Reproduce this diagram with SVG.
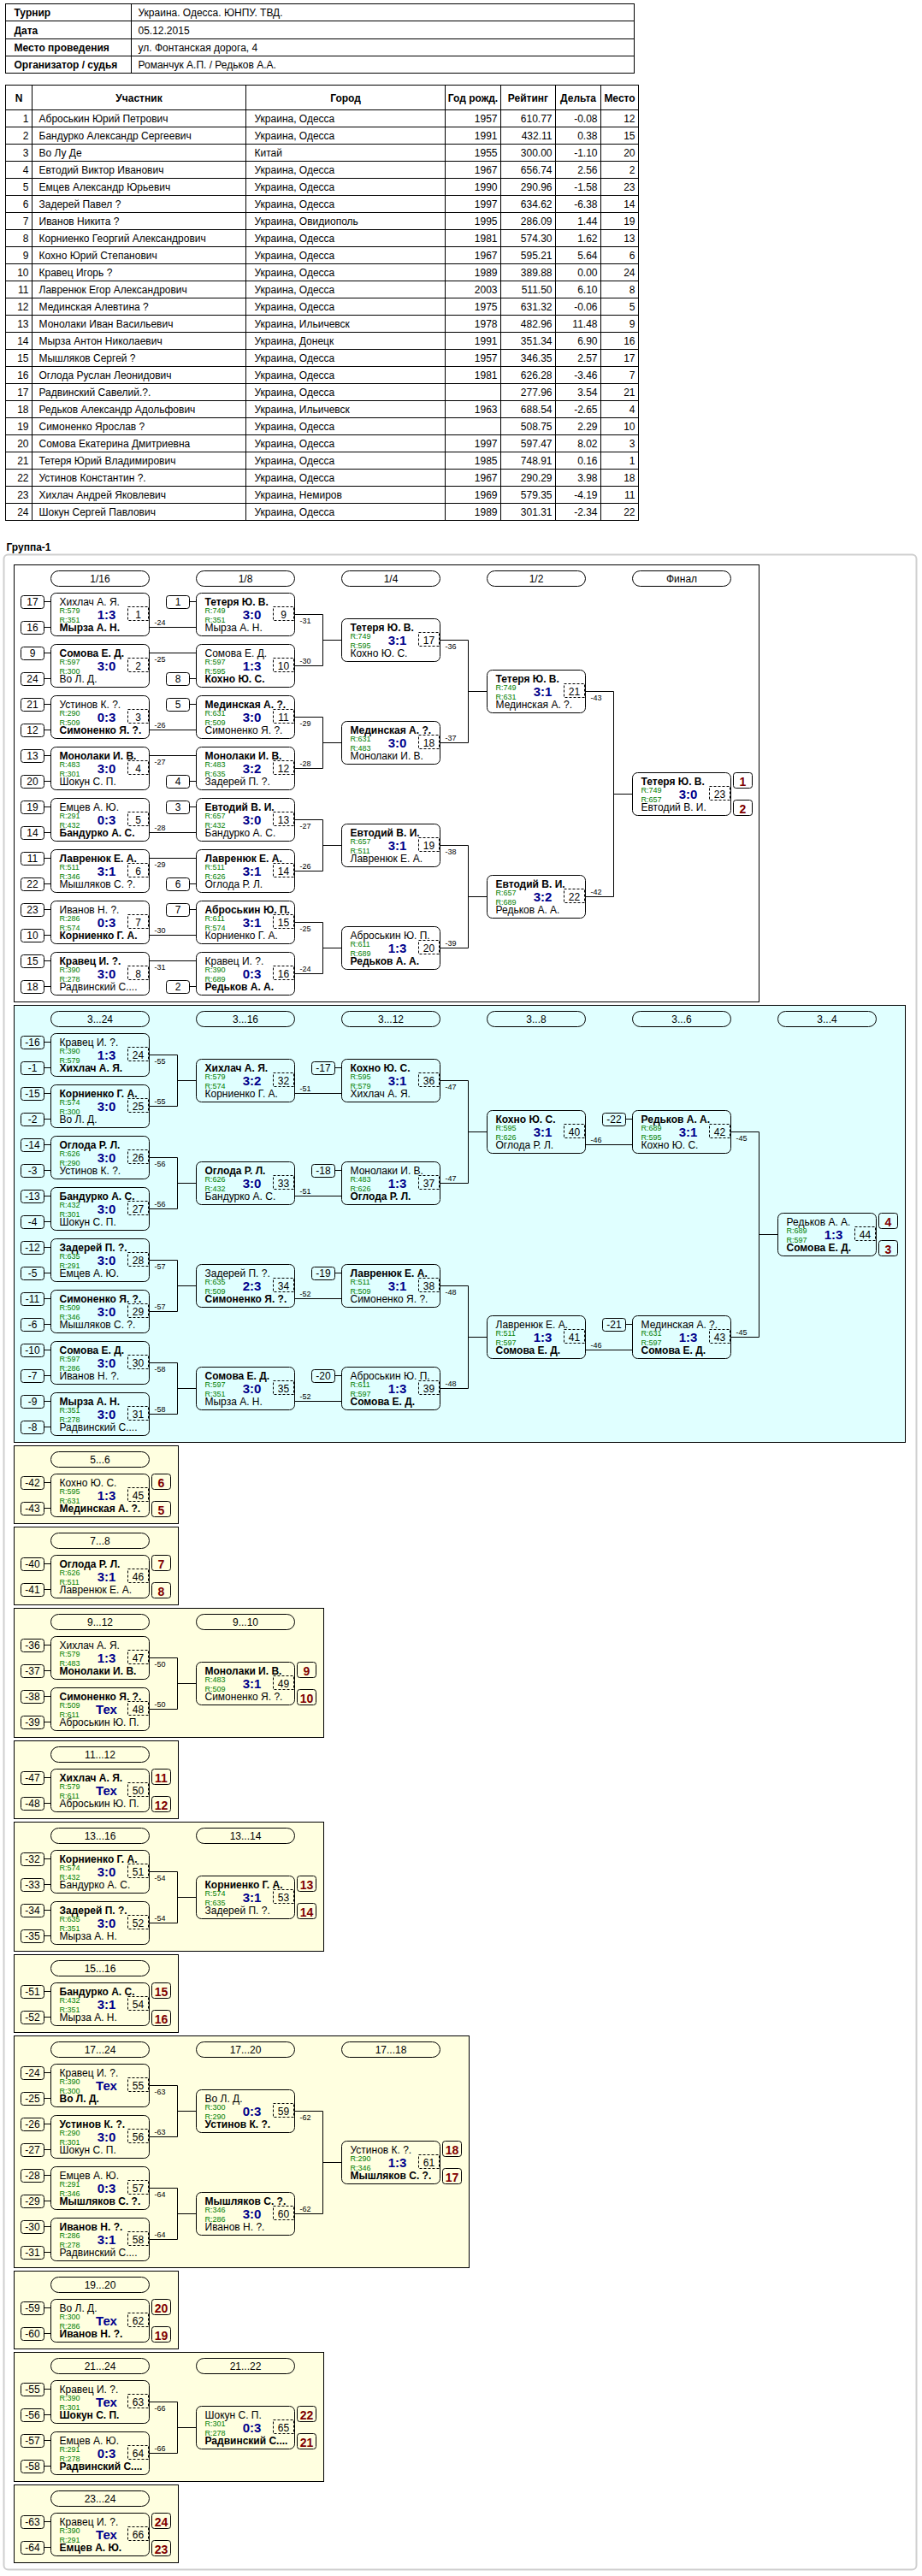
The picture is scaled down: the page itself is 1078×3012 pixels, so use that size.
<svg xmlns="http://www.w3.org/2000/svg" width="1078" height="3012" viewBox="0 0 1078 3012">
<style>
text{font-family:"Liberation Sans",Arial,sans-serif;font-size:12px;fill:#000}
.b{font-weight:bold}
.r{font-size:9px;fill:#008000}
.s{font-size:15px;font-weight:bold;fill:#00008B;text-anchor:middle}
.i{text-anchor:middle}
.e{text-anchor:end}
.l{font-size:9px}
.p{font-size:14px;font-weight:bold;fill:#800000;text-anchor:middle}
.bx{fill:none;stroke:#000;stroke-width:1}
.ds{fill:none;stroke:#000;stroke-width:1;stroke-dasharray:3,2}
.cn{fill:none;stroke:#000;stroke-width:1}
.sw{stroke:#000;stroke-width:1}
</style>
<defs>
<g id="mb"><rect class="bx" width="115" height="50" rx="6"/><rect class="ds" x="90" y="16" width="24" height="16"/></g>
<g id="sd"><rect class="bx" y="-7" width="27" height="15" rx="3"/><path class="cn" d="M27,0H35"/></g>
<g id="pl"><rect class="bx" x="118" width="22" height="18" rx="3"/><rect class="bx" x="118" y="32" width="22" height="18" rx="3"/></g>
<rect id="pb" class="bx" width="115" height="18" rx="9"/>
</defs>
<rect width="1078" height="3012" fill="#fff"/>
<g transform="translate(.5,.5)">

<g id="info">
<rect class="bx" x="6" y="4" width="735" height="81"/>
<path class="cn" d="M6,24H741M6,45H741M6,65H741M153,4V85"/>
<text class="b" x="16" y="18">Турнир</text>
<text class="b" x="16" y="39">Дата</text>
<text class="b" x="16" y="59">Место проведения</text>
<text class="b" x="16" y="79">Организатор / судья</text>
<text x="161" y="18">Украина. Одесса. ЮНПУ. ТВД.</text>
<text x="161" y="39">05.12.2015</text>
<text x="161" y="59">ул. Фонтанская дорога, 4</text>
<text x="161" y="79">Романчук А.П. / Редьков А.А.</text>
</g>

<g id="players">
<rect class="bx" x="6" y="99" width="740" height="509"/>
<path class="cn" d="M37,99V608M287,99V608M520,99V608M585,99V608M649,99V608M702,99V608M6,128H746M6,148H746M6,168H746M6,188H746M6,208H746M6,228H746M6,248H746M6,268H746M6,288H746M6,308H746M6,328H746M6,348H746M6,368H746M6,388H746M6,408H746M6,428H746M6,448H746M6,468H746M6,488H746M6,508H746M6,528H746M6,548H746M6,568H746M6,588H746"/>
<text class="b i" x="21.5" y="118">N</text>
<text class="b i" x="162" y="118">Участник</text>
<text class="b i" x="403.5" y="118">Город</text>
<text class="b i" x="552.5" y="118">Год рожд.</text>
<text class="b i" x="617" y="118">Рейтинг</text>
<text class="b i" x="675.5" y="118">Дельта</text>
<text class="b i" x="724" y="118">Место</text>
<text class="e"><tspan x="33" y="142">1</tspan><tspan x="33" y="162">2</tspan><tspan x="33" y="182">3</tspan><tspan x="33" y="202">4</tspan><tspan x="33" y="222">5</tspan><tspan x="33" y="242">6</tspan><tspan x="33" y="262">7</tspan><tspan x="33" y="282">8</tspan><tspan x="33" y="302">9</tspan><tspan x="33" y="322">10</tspan><tspan x="33" y="342">11</tspan><tspan x="33" y="362">12</tspan><tspan x="33" y="382">13</tspan><tspan x="33" y="402">14</tspan><tspan x="33" y="422">15</tspan><tspan x="33" y="442">16</tspan><tspan x="33" y="462">17</tspan><tspan x="33" y="482">18</tspan><tspan x="33" y="502">19</tspan><tspan x="33" y="522">20</tspan><tspan x="33" y="542">21</tspan><tspan x="33" y="562">22</tspan><tspan x="33" y="582">23</tspan><tspan x="33" y="602">24</tspan></text>
<text><tspan x="45" y="142">Аброськин Юрий Петрович</tspan><tspan x="45" y="162">Бандурко Александр Сергеевич</tspan><tspan x="45" y="182">Во Лу Де</tspan><tspan x="45" y="202">Евтодий Виктор Иванович</tspan><tspan x="45" y="222">Емцев Александр Юрьевич</tspan><tspan x="45" y="242">Задерей Павел ?</tspan><tspan x="45" y="262">Иванов Никита ?</tspan><tspan x="45" y="282">Корниенко Георгий Александрович</tspan><tspan x="45" y="302">Кохно Юрий Степанович</tspan><tspan x="45" y="322">Кравец Игорь ?</tspan><tspan x="45" y="342">Лавренюк Егор Александрович</tspan><tspan x="45" y="362">Мединская Алевтина ?</tspan><tspan x="45" y="382">Монолаки Иван Васильевич</tspan><tspan x="45" y="402">Мырза Антон Николаевич</tspan><tspan x="45" y="422">Мышляков Сергей ?</tspan><tspan x="45" y="442">Оглода Руслан Леонидович</tspan><tspan x="45" y="462">Радвинский Савелий.?.</tspan><tspan x="45" y="482">Редьков Александр Адольфович</tspan><tspan x="45" y="502">Симоненко Ярослав ?</tspan><tspan x="45" y="522">Сомова Екатерина Дмитриевна</tspan><tspan x="45" y="542">Тетеря Юрий Владимирович</tspan><tspan x="45" y="562">Устинов Константин ?.</tspan><tspan x="45" y="582">Хихлач Андрей Яковлевич</tspan><tspan x="45" y="602">Шокун Сергей Павлович</tspan></text>
<text><tspan x="297" y="142">Украина, Одесса</tspan><tspan x="297" y="162">Украина, Одесса</tspan><tspan x="297" y="182">Китай</tspan><tspan x="297" y="202">Украина, Одесса</tspan><tspan x="297" y="222">Украина, Одесса</tspan><tspan x="297" y="242">Украина, Одесса</tspan><tspan x="297" y="262">Украина, Овидиополь</tspan><tspan x="297" y="282">Украина, Одесса</tspan><tspan x="297" y="302">Украина, Одесса</tspan><tspan x="297" y="322">Украина, Одесса</tspan><tspan x="297" y="342">Украина, Одесса</tspan><tspan x="297" y="362">Украина, Одесса</tspan><tspan x="297" y="382">Украина, Ильичевск</tspan><tspan x="297" y="402">Украина, Донецк</tspan><tspan x="297" y="422">Украина, Одесса</tspan><tspan x="297" y="442">Украина, Одесса</tspan><tspan x="297" y="462">Украина, Одесса</tspan><tspan x="297" y="482">Украина, Ильичевск</tspan><tspan x="297" y="502">Украина, Одесса</tspan><tspan x="297" y="522">Украина, Одесса</tspan><tspan x="297" y="542">Украина, Одесса</tspan><tspan x="297" y="562">Украина, Одесса</tspan><tspan x="297" y="582">Украина, Немиров</tspan><tspan x="297" y="602">Украина, Одесса</tspan></text>
<text class="e"><tspan x="581" y="142">1957</tspan><tspan x="581" y="162">1991</tspan><tspan x="581" y="182">1955</tspan><tspan x="581" y="202">1967</tspan><tspan x="581" y="222">1990</tspan><tspan x="581" y="242">1997</tspan><tspan x="581" y="262">1995</tspan><tspan x="581" y="282">1981</tspan><tspan x="581" y="302">1967</tspan><tspan x="581" y="322">1989</tspan><tspan x="581" y="342">2003</tspan><tspan x="581" y="362">1975</tspan><tspan x="581" y="382">1978</tspan><tspan x="581" y="402">1991</tspan><tspan x="581" y="422">1957</tspan><tspan x="581" y="442">1981</tspan><tspan x="581" y="482">1963</tspan><tspan x="581" y="522">1997</tspan><tspan x="581" y="542">1985</tspan><tspan x="581" y="562">1967</tspan><tspan x="581" y="582">1969</tspan><tspan x="581" y="602">1989</tspan></text>
<text class="e"><tspan x="645" y="142">610.77</tspan><tspan x="645" y="162">432.11</tspan><tspan x="645" y="182">300.00</tspan><tspan x="645" y="202">656.74</tspan><tspan x="645" y="222">290.96</tspan><tspan x="645" y="242">634.62</tspan><tspan x="645" y="262">286.09</tspan><tspan x="645" y="282">574.30</tspan><tspan x="645" y="302">595.21</tspan><tspan x="645" y="322">389.88</tspan><tspan x="645" y="342">511.50</tspan><tspan x="645" y="362">631.32</tspan><tspan x="645" y="382">482.96</tspan><tspan x="645" y="402">351.34</tspan><tspan x="645" y="422">346.35</tspan><tspan x="645" y="442">626.28</tspan><tspan x="645" y="462">277.96</tspan><tspan x="645" y="482">688.54</tspan><tspan x="645" y="502">508.75</tspan><tspan x="645" y="522">597.47</tspan><tspan x="645" y="542">748.91</tspan><tspan x="645" y="562">290.29</tspan><tspan x="645" y="582">579.35</tspan><tspan x="645" y="602">301.31</tspan></text>
<text class="e"><tspan x="698" y="142">-0.08</tspan><tspan x="698" y="162">0.38</tspan><tspan x="698" y="182">-1.10</tspan><tspan x="698" y="202">2.56</tspan><tspan x="698" y="222">-1.58</tspan><tspan x="698" y="242">-6.38</tspan><tspan x="698" y="262">1.44</tspan><tspan x="698" y="282">1.62</tspan><tspan x="698" y="302">5.64</tspan><tspan x="698" y="322">0.00</tspan><tspan x="698" y="342">6.10</tspan><tspan x="698" y="362">-0.06</tspan><tspan x="698" y="382">11.48</tspan><tspan x="698" y="402">6.90</tspan><tspan x="698" y="422">2.57</tspan><tspan x="698" y="442">-3.46</tspan><tspan x="698" y="462">3.54</tspan><tspan x="698" y="482">-2.65</tspan><tspan x="698" y="502">2.29</tspan><tspan x="698" y="522">8.02</tspan><tspan x="698" y="542">0.16</tspan><tspan x="698" y="562">3.98</tspan><tspan x="698" y="582">-4.19</tspan><tspan x="698" y="602">-2.34</tspan></text>
<text class="e"><tspan x="742" y="142">12</tspan><tspan x="742" y="162">15</tspan><tspan x="742" y="182">20</tspan><tspan x="742" y="202">2</tspan><tspan x="742" y="222">23</tspan><tspan x="742" y="242">14</tspan><tspan x="742" y="262">19</tspan><tspan x="742" y="282">13</tspan><tspan x="742" y="302">6</tspan><tspan x="742" y="322">24</tspan><tspan x="742" y="342">8</tspan><tspan x="742" y="362">5</tspan><tspan x="742" y="382">9</tspan><tspan x="742" y="402">16</tspan><tspan x="742" y="422">17</tspan><tspan x="742" y="442">7</tspan><tspan x="742" y="462">21</tspan><tspan x="742" y="482">4</tspan><tspan x="742" y="502">10</tspan><tspan x="742" y="522">3</tspan><tspan x="742" y="542">1</tspan><tspan x="742" y="562">18</tspan><tspan x="742" y="582">11</tspan><tspan x="742" y="602">22</tspan></text>
</g>

<text class="b" x="7" y="643">Группа-1</text>
<rect x="4" y="648" width="1067" height="2356" rx="5" fill="#fff" stroke="#cfcfcf" stroke-width="2"/>

<g id="sections">
<rect class="sw" x="16" y="660" width="871" height="511" fill="#fff"/>
<rect class="sw" x="16" y="1175" width="1042" height="511" fill="#E0FFFF"/>
<rect class="sw" x="16" y="1690" width="192" height="91" fill="#FFFFE0"/>
<rect class="sw" x="16" y="1785" width="192" height="91" fill="#FFFFE0"/>
<rect class="sw" x="16" y="1880" width="362" height="151" fill="#FFFFE0"/>
<rect class="sw" x="16" y="2035" width="192" height="91" fill="#FFFFE0"/>
<rect class="sw" x="16" y="2130" width="362" height="151" fill="#FFFFE0"/>
<rect class="sw" x="16" y="2285" width="192" height="91" fill="#FFFFE0"/>
<rect class="sw" x="16" y="2380" width="532" height="271" fill="#FFFFE0"/>
<rect class="sw" x="16" y="2655" width="192" height="91" fill="#FFFFE0"/>
<rect class="sw" x="16" y="2750" width="362" height="151" fill="#FFFFE0"/>
<rect class="sw" x="16" y="2905" width="192" height="91" fill="#FFFFE0"/>
</g>

<g id="rounds">
<use href="#pb" x="59" y="667"/><text class="i" x="116.5" y="680">1/16</text>
<use href="#pb" x="229" y="667"/><text class="i" x="286.5" y="680">1/8</text>
<use href="#pb" x="399" y="667"/><text class="i" x="456.5" y="680">1/4</text>
<use href="#pb" x="569" y="667"/><text class="i" x="626.5" y="680">1/2</text>
<use href="#pb" x="739" y="667"/><text class="i" x="796.5" y="680">Финал</text>
<use href="#pb" x="59" y="1182"/><text class="i" x="116.5" y="1195">3...24</text>
<use href="#pb" x="229" y="1182"/><text class="i" x="286.5" y="1195">3...16</text>
<use href="#pb" x="399" y="1182"/><text class="i" x="456.5" y="1195">3...12</text>
<use href="#pb" x="569" y="1182"/><text class="i" x="626.5" y="1195">3...8</text>
<use href="#pb" x="739" y="1182"/><text class="i" x="796.5" y="1195">3...6</text>
<use href="#pb" x="909" y="1182"/><text class="i" x="966.5" y="1195">3...4</text>
<use href="#pb" x="59" y="1697"/><text class="i" x="116.5" y="1710">5...6</text>
<use href="#pb" x="59" y="1792"/><text class="i" x="116.5" y="1805">7...8</text>
<use href="#pb" x="59" y="1887"/><text class="i" x="116.5" y="1900">9...12</text>
<use href="#pb" x="229" y="1887"/><text class="i" x="286.5" y="1900">9...10</text>
<use href="#pb" x="59" y="2042"/><text class="i" x="116.5" y="2055">11...12</text>
<use href="#pb" x="59" y="2137"/><text class="i" x="116.5" y="2150">13...16</text>
<use href="#pb" x="229" y="2137"/><text class="i" x="286.5" y="2150">13...14</text>
<use href="#pb" x="59" y="2292"/><text class="i" x="116.5" y="2305">15...16</text>
<use href="#pb" x="59" y="2387"/><text class="i" x="116.5" y="2400">17...24</text>
<use href="#pb" x="229" y="2387"/><text class="i" x="286.5" y="2400">17...20</text>
<use href="#pb" x="399" y="2387"/><text class="i" x="456.5" y="2400">17...18</text>
<use href="#pb" x="59" y="2662"/><text class="i" x="116.5" y="2675">19...20</text>
<use href="#pb" x="59" y="2757"/><text class="i" x="116.5" y="2770">21...24</text>
<use href="#pb" x="229" y="2757"/><text class="i" x="286.5" y="2770">21...22</text>
<use href="#pb" x="59" y="2912"/><text class="i" x="116.5" y="2925">23...24</text>
</g>

<g id="connectors">
<path class="cn" d="M174,733H229M174,763H229M174,853H229M174,883H229M174,973H229M174,1003H229M174,1093H229M174,1123H229
M344,718H377V778H344M377,748H399M344,838H377V898H344M377,868H399M344,958H377V1018H344M377,988H399M344,1078H377V1138H344M377,1108H399
M514,748H547V868H514M547,808H569M514,988H547V1108H514M547,1048H569
M684,808H717V1048H684M717,928H739
M174,1233H207V1293H174M207,1263H229M174,1353H207V1413H174M207,1383H229M174,1473H207V1533H174M207,1503H229M174,1593H207V1653H174M207,1623H229
M344,1278H399M344,1398H399M344,1518H399M344,1638H399
M514,1263H547V1383H514M547,1323H569M514,1503H547V1623H514M547,1563H569
M684,1338H739M684,1578H739
M854,1323H887V1563H854M887,1443H909
M174,1938H207V1998H174M207,1968H229
M174,2188H207V2248H174M207,2218H229
M174,2438H207V2498H174M207,2468H229M174,2558H207V2618H174M207,2588H229M344,2468H377V2588H344M377,2528H399
M174,2808H207V2868H174M207,2838H229"/>
</g>

<g id="matches">
<g id="m1" transform="translate(59,693)"><use href="#mb"/><use href="#sd" x="-35" y="10"/><text class="i" x="-21.5" y="14">17</text><use href="#sd" x="-35" y="40"/><text class="i" x="-21.5" y="44">16</text><text x="10" y="14">Хихлач А. Я.</text><text class="r" x="10" y="23">R:579</text><text class="r" x="10" y="34">R:351</text><text class="s" x="65" y="30">1:3</text><text class="i" x="102" y="29">1</text><text class="b" x="10" y="44">Мырза А. Н.</text><text class="l" x="121" y="37.5">-24</text></g>
<g id="m2" transform="translate(59,753)"><use href="#mb"/><use href="#sd" x="-35" y="10"/><text class="i" x="-21.5" y="14">9</text><use href="#sd" x="-35" y="40"/><text class="i" x="-21.5" y="44">24</text><text class="b" x="10" y="14">Сомова Е. Д.</text><text class="r" x="10" y="23">R:597</text><text class="r" x="10" y="34">R:300</text><text class="s" x="65" y="30">3:0</text><text class="i" x="102" y="29">2</text><text x="10" y="44">Во Л. Д.</text><text class="l" x="121" y="20">-25</text></g>
<g id="m3" transform="translate(59,813)"><use href="#mb"/><use href="#sd" x="-35" y="10"/><text class="i" x="-21.5" y="14">21</text><use href="#sd" x="-35" y="40"/><text class="i" x="-21.5" y="44">12</text><text x="10" y="14">Устинов К. ?.</text><text class="r" x="10" y="23">R:290</text><text class="r" x="10" y="34">R:509</text><text class="s" x="65" y="30">0:3</text><text class="i" x="102" y="29">3</text><text class="b" x="10" y="44">Симоненко Я. ?.</text><text class="l" x="121" y="37.5">-26</text></g>
<g id="m4" transform="translate(59,873)"><use href="#mb"/><use href="#sd" x="-35" y="10"/><text class="i" x="-21.5" y="14">13</text><use href="#sd" x="-35" y="40"/><text class="i" x="-21.5" y="44">20</text><text class="b" x="10" y="14">Монолаки И. В.</text><text class="r" x="10" y="23">R:483</text><text class="r" x="10" y="34">R:301</text><text class="s" x="65" y="30">3:0</text><text class="i" x="102" y="29">4</text><text x="10" y="44">Шокун С. П.</text><text class="l" x="121" y="20">-27</text></g>
<g id="m5" transform="translate(59,933)"><use href="#mb"/><use href="#sd" x="-35" y="10"/><text class="i" x="-21.5" y="14">19</text><use href="#sd" x="-35" y="40"/><text class="i" x="-21.5" y="44">14</text><text x="10" y="14">Емцев А. Ю.</text><text class="r" x="10" y="23">R:291</text><text class="r" x="10" y="34">R:432</text><text class="s" x="65" y="30">0:3</text><text class="i" x="102" y="29">5</text><text class="b" x="10" y="44">Бандурко А. С.</text><text class="l" x="121" y="37.5">-28</text></g>
<g id="m6" transform="translate(59,993)"><use href="#mb"/><use href="#sd" x="-35" y="10"/><text class="i" x="-21.5" y="14">11</text><use href="#sd" x="-35" y="40"/><text class="i" x="-21.5" y="44">22</text><text class="b" x="10" y="14">Лавренюк Е. А.</text><text class="r" x="10" y="23">R:511</text><text class="r" x="10" y="34">R:346</text><text class="s" x="65" y="30">3:1</text><text class="i" x="102" y="29">6</text><text x="10" y="44">Мышляков С. ?.</text><text class="l" x="121" y="20">-29</text></g>
<g id="m7" transform="translate(59,1053)"><use href="#mb"/><use href="#sd" x="-35" y="10"/><text class="i" x="-21.5" y="14">23</text><use href="#sd" x="-35" y="40"/><text class="i" x="-21.5" y="44">10</text><text x="10" y="14">Иванов Н. ?.</text><text class="r" x="10" y="23">R:286</text><text class="r" x="10" y="34">R:574</text><text class="s" x="65" y="30">0:3</text><text class="i" x="102" y="29">7</text><text class="b" x="10" y="44">Корниенко Г. А.</text><text class="l" x="121" y="37.5">-30</text></g>
<g id="m8" transform="translate(59,1113)"><use href="#mb"/><use href="#sd" x="-35" y="10"/><text class="i" x="-21.5" y="14">15</text><use href="#sd" x="-35" y="40"/><text class="i" x="-21.5" y="44">18</text><text class="b" x="10" y="14">Кравец И. ?.</text><text class="r" x="10" y="23">R:390</text><text class="r" x="10" y="34">R:278</text><text class="s" x="65" y="30">3:0</text><text class="i" x="102" y="29">8</text><text x="10" y="44">Радвинский С....</text><text class="l" x="121" y="20">-31</text></g>
<g id="m9" transform="translate(229,693)"><use href="#mb"/><use href="#sd" x="-35" y="10"/><text class="i" x="-21.5" y="14">1</text><text class="b" x="10" y="14">Тетеря Ю. В.</text><text class="r" x="10" y="23">R:749</text><text class="r" x="10" y="34">R:351</text><text class="s" x="65" y="30">3:0</text><text class="i" x="102" y="29">9</text><text x="10" y="44">Мырза А. Н.</text><text class="l" x="121" y="35">-31</text></g>
<g id="m10" transform="translate(229,753)"><use href="#mb"/><use href="#sd" x="-35" y="40"/><text class="i" x="-21.5" y="44">8</text><text x="10" y="14">Сомова Е. Д.</text><text class="r" x="10" y="23">R:597</text><text class="r" x="10" y="34">R:595</text><text class="s" x="65" y="30">1:3</text><text class="i" x="102" y="29">10</text><text class="b" x="10" y="44">Кохно Ю. С.</text><text class="l" x="121" y="22.5">-30</text></g>
<g id="m11" transform="translate(229,813)"><use href="#mb"/><use href="#sd" x="-35" y="10"/><text class="i" x="-21.5" y="14">5</text><text class="b" x="10" y="14">Мединская А. ?.</text><text class="r" x="10" y="23">R:631</text><text class="r" x="10" y="34">R:509</text><text class="s" x="65" y="30">3:0</text><text class="i" x="102" y="29">11</text><text x="10" y="44">Симоненко Я. ?.</text><text class="l" x="121" y="35">-29</text></g>
<g id="m12" transform="translate(229,873)"><use href="#mb"/><use href="#sd" x="-35" y="40"/><text class="i" x="-21.5" y="44">4</text><text class="b" x="10" y="14">Монолаки И. В.</text><text class="r" x="10" y="23">R:483</text><text class="r" x="10" y="34">R:635</text><text class="s" x="65" y="30">3:2</text><text class="i" x="102" y="29">12</text><text x="10" y="44">Задерей П. ?.</text><text class="l" x="121" y="22.5">-28</text></g>
<g id="m13" transform="translate(229,933)"><use href="#mb"/><use href="#sd" x="-35" y="10"/><text class="i" x="-21.5" y="14">3</text><text class="b" x="10" y="14">Евтодий В. И.</text><text class="r" x="10" y="23">R:657</text><text class="r" x="10" y="34">R:432</text><text class="s" x="65" y="30">3:0</text><text class="i" x="102" y="29">13</text><text x="10" y="44">Бандурко А. С.</text><text class="l" x="121" y="35">-27</text></g>
<g id="m14" transform="translate(229,993)"><use href="#mb"/><use href="#sd" x="-35" y="40"/><text class="i" x="-21.5" y="44">6</text><text class="b" x="10" y="14">Лавренюк Е. А.</text><text class="r" x="10" y="23">R:511</text><text class="r" x="10" y="34">R:626</text><text class="s" x="65" y="30">3:1</text><text class="i" x="102" y="29">14</text><text x="10" y="44">Оглода Р. Л.</text><text class="l" x="121" y="22.5">-26</text></g>
<g id="m15" transform="translate(229,1053)"><use href="#mb"/><use href="#sd" x="-35" y="10"/><text class="i" x="-21.5" y="14">7</text><text class="b" x="10" y="14">Аброськин Ю. П.</text><text class="r" x="10" y="23">R:611</text><text class="r" x="10" y="34">R:574</text><text class="s" x="65" y="30">3:1</text><text class="i" x="102" y="29">15</text><text x="10" y="44">Корниенко Г. А.</text><text class="l" x="121" y="35">-25</text></g>
<g id="m16" transform="translate(229,1113)"><use href="#mb"/><use href="#sd" x="-35" y="40"/><text class="i" x="-21.5" y="44">2</text><text x="10" y="14">Кравец И. ?.</text><text class="r" x="10" y="23">R:390</text><text class="r" x="10" y="34">R:689</text><text class="s" x="65" y="30">0:3</text><text class="i" x="102" y="29">16</text><text class="b" x="10" y="44">Редьков А. А.</text><text class="l" x="121" y="22.5">-24</text></g>
<g id="m17" transform="translate(399,723)"><use href="#mb"/><text class="b" x="10" y="14">Тетеря Ю. В.</text><text class="r" x="10" y="23">R:749</text><text class="r" x="10" y="34">R:595</text><text class="s" x="65" y="30">3:1</text><text class="i" x="102" y="29">17</text><text x="10" y="44">Кохно Ю. С.</text><text class="l" x="121" y="35">-36</text></g>
<g id="m18" transform="translate(399,843)"><use href="#mb"/><text class="b" x="10" y="14">Мединская А. ?.</text><text class="r" x="10" y="23">R:631</text><text class="r" x="10" y="34">R:483</text><text class="s" x="65" y="30">3:0</text><text class="i" x="102" y="29">18</text><text x="10" y="44">Монолаки И. В.</text><text class="l" x="121" y="22.5">-37</text></g>
<g id="m19" transform="translate(399,963)"><use href="#mb"/><text class="b" x="10" y="14">Евтодий В. И.</text><text class="r" x="10" y="23">R:657</text><text class="r" x="10" y="34">R:511</text><text class="s" x="65" y="30">3:1</text><text class="i" x="102" y="29">19</text><text x="10" y="44">Лавренюк Е. А.</text><text class="l" x="121" y="35">-38</text></g>
<g id="m20" transform="translate(399,1083)"><use href="#mb"/><text x="10" y="14">Аброськин Ю. П.</text><text class="r" x="10" y="23">R:611</text><text class="r" x="10" y="34">R:689</text><text class="s" x="65" y="30">1:3</text><text class="i" x="102" y="29">20</text><text class="b" x="10" y="44">Редьков А. А.</text><text class="l" x="121" y="22.5">-39</text></g>
<g id="m21" transform="translate(569,783)"><use href="#mb"/><text class="b" x="10" y="14">Тетеря Ю. В.</text><text class="r" x="10" y="23">R:749</text><text class="r" x="10" y="34">R:631</text><text class="s" x="65" y="30">3:1</text><text class="i" x="102" y="29">21</text><text x="10" y="44">Мединская А. ?.</text><text class="l" x="121" y="35">-43</text></g>
<g id="m22" transform="translate(569,1023)"><use href="#mb"/><text class="b" x="10" y="14">Евтодий В. И.</text><text class="r" x="10" y="23">R:657</text><text class="r" x="10" y="34">R:689</text><text class="s" x="65" y="30">3:2</text><text class="i" x="102" y="29">22</text><text x="10" y="44">Редьков А. А.</text><text class="l" x="121" y="22.5">-42</text></g>
<g id="m23" transform="translate(739,903)"><use href="#mb"/><use href="#pl"/><text class="b" x="10" y="14">Тетеря Ю. В.</text><text class="r" x="10" y="23">R:749</text><text class="r" x="10" y="34">R:657</text><text class="s" x="65" y="30">3:0</text><text class="i" x="102" y="29">23</text><text x="10" y="44">Евтодий В. И.</text><text class="p" x="129" y="15">1</text><text class="p" x="129" y="47">2</text></g>

<g id="m24" transform="translate(59,1208)"><use href="#mb"/><use href="#sd" x="-35" y="10"/><text class="i" x="-21.5" y="14">-16</text><use href="#sd" x="-35" y="40"/><text class="i" x="-21.5" y="44">-1</text><text x="10" y="14">Кравец И. ?.</text><text class="r" x="10" y="23">R:390</text><text class="r" x="10" y="34">R:579</text><text class="s" x="65" y="30">1:3</text><text class="i" x="102" y="29">24</text><text class="b" x="10" y="44">Хихлач А. Я.</text><text class="l" x="121" y="35">-55</text></g>
<g id="m25" transform="translate(59,1268)"><use href="#mb"/><use href="#sd" x="-35" y="10"/><text class="i" x="-21.5" y="14">-15</text><use href="#sd" x="-35" y="40"/><text class="i" x="-21.5" y="44">-2</text><text class="b" x="10" y="14">Корниенко Г. А.</text><text class="r" x="10" y="23">R:574</text><text class="r" x="10" y="34">R:300</text><text class="s" x="65" y="30">3:0</text><text class="i" x="102" y="29">25</text><text x="10" y="44">Во Л. Д.</text><text class="l" x="121" y="22.5">-55</text></g>
<g id="m26" transform="translate(59,1328)"><use href="#mb"/><use href="#sd" x="-35" y="10"/><text class="i" x="-21.5" y="14">-14</text><use href="#sd" x="-35" y="40"/><text class="i" x="-21.5" y="44">-3</text><text class="b" x="10" y="14">Оглода Р. Л.</text><text class="r" x="10" y="23">R:626</text><text class="r" x="10" y="34">R:290</text><text class="s" x="65" y="30">3:0</text><text class="i" x="102" y="29">26</text><text x="10" y="44">Устинов К. ?.</text><text class="l" x="121" y="35">-56</text></g>
<g id="m27" transform="translate(59,1388)"><use href="#mb"/><use href="#sd" x="-35" y="10"/><text class="i" x="-21.5" y="14">-13</text><use href="#sd" x="-35" y="40"/><text class="i" x="-21.5" y="44">-4</text><text class="b" x="10" y="14">Бандурко А. С.</text><text class="r" x="10" y="23">R:432</text><text class="r" x="10" y="34">R:301</text><text class="s" x="65" y="30">3:0</text><text class="i" x="102" y="29">27</text><text x="10" y="44">Шокун С. П.</text><text class="l" x="121" y="22.5">-56</text></g>
<g id="m28" transform="translate(59,1448)"><use href="#mb"/><use href="#sd" x="-35" y="10"/><text class="i" x="-21.5" y="14">-12</text><use href="#sd" x="-35" y="40"/><text class="i" x="-21.5" y="44">-5</text><text class="b" x="10" y="14">Задерей П. ?.</text><text class="r" x="10" y="23">R:635</text><text class="r" x="10" y="34">R:291</text><text class="s" x="65" y="30">3:0</text><text class="i" x="102" y="29">28</text><text x="10" y="44">Емцев А. Ю.</text><text class="l" x="121" y="35">-57</text></g>
<g id="m29" transform="translate(59,1508)"><use href="#mb"/><use href="#sd" x="-35" y="10"/><text class="i" x="-21.5" y="14">-11</text><use href="#sd" x="-35" y="40"/><text class="i" x="-21.5" y="44">-6</text><text class="b" x="10" y="14">Симоненко Я. ?.</text><text class="r" x="10" y="23">R:509</text><text class="r" x="10" y="34">R:346</text><text class="s" x="65" y="30">3:0</text><text class="i" x="102" y="29">29</text><text x="10" y="44">Мышляков С. ?.</text><text class="l" x="121" y="22.5">-57</text></g>
<g id="m30" transform="translate(59,1568)"><use href="#mb"/><use href="#sd" x="-35" y="10"/><text class="i" x="-21.5" y="14">-10</text><use href="#sd" x="-35" y="40"/><text class="i" x="-21.5" y="44">-7</text><text class="b" x="10" y="14">Сомова Е. Д.</text><text class="r" x="10" y="23">R:597</text><text class="r" x="10" y="34">R:286</text><text class="s" x="65" y="30">3:0</text><text class="i" x="102" y="29">30</text><text x="10" y="44">Иванов Н. ?.</text><text class="l" x="121" y="35">-58</text></g>
<g id="m31" transform="translate(59,1628)"><use href="#mb"/><use href="#sd" x="-35" y="10"/><text class="i" x="-21.5" y="14">-9</text><use href="#sd" x="-35" y="40"/><text class="i" x="-21.5" y="44">-8</text><text class="b" x="10" y="14">Мырза А. Н.</text><text class="r" x="10" y="23">R:351</text><text class="r" x="10" y="34">R:278</text><text class="s" x="65" y="30">3:0</text><text class="i" x="102" y="29">31</text><text x="10" y="44">Радвинский С....</text><text class="l" x="121" y="22.5">-58</text></g>
<g id="m32" transform="translate(229,1238)"><use href="#mb"/><text class="b" x="10" y="14">Хихлач А. Я.</text><text class="r" x="10" y="23">R:579</text><text class="r" x="10" y="34">R:574</text><text class="s" x="65" y="30">3:2</text><text class="i" x="102" y="29">32</text><text x="10" y="44">Корниенко Г. А.</text><text class="l" x="121" y="37.5">-51</text></g>
<g id="m33" transform="translate(229,1358)"><use href="#mb"/><text class="b" x="10" y="14">Оглода Р. Л.</text><text class="r" x="10" y="23">R:626</text><text class="r" x="10" y="34">R:432</text><text class="s" x="65" y="30">3:0</text><text class="i" x="102" y="29">33</text><text x="10" y="44">Бандурко А. С.</text><text class="l" x="121" y="37.5">-51</text></g>
<g id="m34" transform="translate(229,1478)"><use href="#mb"/><text x="10" y="14">Задерей П. ?.</text><text class="r" x="10" y="23">R:635</text><text class="r" x="10" y="34">R:509</text><text class="s" x="65" y="30">2:3</text><text class="i" x="102" y="29">34</text><text class="b" x="10" y="44">Симоненко Я. ?.</text><text class="l" x="121" y="37.5">-52</text></g>
<g id="m35" transform="translate(229,1598)"><use href="#mb"/><text class="b" x="10" y="14">Сомова Е. Д.</text><text class="r" x="10" y="23">R:597</text><text class="r" x="10" y="34">R:351</text><text class="s" x="65" y="30">3:0</text><text class="i" x="102" y="29">35</text><text x="10" y="44">Мырза А. Н.</text><text class="l" x="121" y="37.5">-52</text></g>
<g id="m36" transform="translate(399,1238)"><use href="#mb"/><use href="#sd" x="-35" y="10"/><text class="i" x="-21.5" y="14">-17</text><text class="b" x="10" y="14">Кохно Ю. С.</text><text class="r" x="10" y="23">R:595</text><text class="r" x="10" y="34">R:579</text><text class="s" x="65" y="30">3:1</text><text class="i" x="102" y="29">36</text><text x="10" y="44">Хихлач А. Я.</text><text class="l" x="121" y="35">-47</text></g>
<g id="m37" transform="translate(399,1358)"><use href="#mb"/><use href="#sd" x="-35" y="10"/><text class="i" x="-21.5" y="14">-18</text><text x="10" y="14">Монолаки И. В.</text><text class="r" x="10" y="23">R:483</text><text class="r" x="10" y="34">R:626</text><text class="s" x="65" y="30">1:3</text><text class="i" x="102" y="29">37</text><text class="b" x="10" y="44">Оглода Р. Л.</text><text class="l" x="121" y="22.5">-47</text></g>
<g id="m38" transform="translate(399,1478)"><use href="#mb"/><use href="#sd" x="-35" y="10"/><text class="i" x="-21.5" y="14">-19</text><text class="b" x="10" y="14">Лавренюк Е. А.</text><text class="r" x="10" y="23">R:511</text><text class="r" x="10" y="34">R:509</text><text class="s" x="65" y="30">3:1</text><text class="i" x="102" y="29">38</text><text x="10" y="44">Симоненко Я. ?.</text><text class="l" x="121" y="35">-48</text></g>
<g id="m39" transform="translate(399,1598)"><use href="#mb"/><use href="#sd" x="-35" y="10"/><text class="i" x="-21.5" y="14">-20</text><text x="10" y="14">Аброськин Ю. П.</text><text class="r" x="10" y="23">R:611</text><text class="r" x="10" y="34">R:597</text><text class="s" x="65" y="30">1:3</text><text class="i" x="102" y="29">39</text><text class="b" x="10" y="44">Сомова Е. Д.</text><text class="l" x="121" y="22.5">-48</text></g>
<g id="m40" transform="translate(569,1298)"><use href="#mb"/><text class="b" x="10" y="14">Кохно Ю. С.</text><text class="r" x="10" y="23">R:595</text><text class="r" x="10" y="34">R:626</text><text class="s" x="65" y="30">3:1</text><text class="i" x="102" y="29">40</text><text x="10" y="44">Оглода Р. Л.</text><text class="l" x="121" y="37.5">-46</text></g>
<g id="m41" transform="translate(569,1538)"><use href="#mb"/><text x="10" y="14">Лавренюк Е. А.</text><text class="r" x="10" y="23">R:511</text><text class="r" x="10" y="34">R:597</text><text class="s" x="65" y="30">1:3</text><text class="i" x="102" y="29">41</text><text class="b" x="10" y="44">Сомова Е. Д.</text><text class="l" x="121" y="37.5">-46</text></g>
<g id="m42" transform="translate(739,1298)"><use href="#mb"/><use href="#sd" x="-35" y="10"/><text class="i" x="-21.5" y="14">-22</text><text class="b" x="10" y="14">Редьков А. А.</text><text class="r" x="10" y="23">R:689</text><text class="r" x="10" y="34">R:595</text><text class="s" x="65" y="30">3:1</text><text class="i" x="102" y="29">42</text><text x="10" y="44">Кохно Ю. С.</text><text class="l" x="121" y="35">-45</text></g>
<g id="m43" transform="translate(739,1538)"><use href="#mb"/><use href="#sd" x="-35" y="10"/><text class="i" x="-21.5" y="14">-21</text><text x="10" y="14">Мединская А. ?.</text><text class="r" x="10" y="23">R:631</text><text class="r" x="10" y="34">R:597</text><text class="s" x="65" y="30">1:3</text><text class="i" x="102" y="29">43</text><text class="b" x="10" y="44">Сомова Е. Д.</text><text class="l" x="121" y="22.5">-45</text></g>
<g id="m44" transform="translate(909,1418)"><use href="#mb"/><use href="#pl"/><text x="10" y="14">Редьков А. А.</text><text class="r" x="10" y="23">R:689</text><text class="r" x="10" y="34">R:597</text><text class="s" x="65" y="30">1:3</text><text class="i" x="102" y="29">44</text><text class="b" x="10" y="44">Сомова Е. Д.</text><text class="p" x="129" y="15">4</text><text class="p" x="129" y="47">3</text></g>

<g id="m45" transform="translate(59,1723)"><use href="#mb"/><use href="#pl"/><use href="#sd" x="-35" y="10"/><text class="i" x="-21.5" y="14">-42</text><use href="#sd" x="-35" y="40"/><text class="i" x="-21.5" y="44">-43</text><text x="10" y="14">Кохно Ю. С.</text><text class="r" x="10" y="23">R:595</text><text class="r" x="10" y="34">R:631</text><text class="s" x="65" y="30">1:3</text><text class="i" x="102" y="29">45</text><text class="b" x="10" y="44">Мединская А. ?.</text><text class="p" x="129" y="15">6</text><text class="p" x="129" y="47">5</text></g>
<g id="m46" transform="translate(59,1818)"><use href="#mb"/><use href="#pl"/><use href="#sd" x="-35" y="10"/><text class="i" x="-21.5" y="14">-40</text><use href="#sd" x="-35" y="40"/><text class="i" x="-21.5" y="44">-41</text><text class="b" x="10" y="14">Оглода Р. Л.</text><text class="r" x="10" y="23">R:626</text><text class="r" x="10" y="34">R:511</text><text class="s" x="65" y="30">3:1</text><text class="i" x="102" y="29">46</text><text x="10" y="44">Лавренюк Е. А.</text><text class="p" x="129" y="15">7</text><text class="p" x="129" y="47">8</text></g>
<g id="m47" transform="translate(59,1913)"><use href="#mb"/><use href="#sd" x="-35" y="10"/><text class="i" x="-21.5" y="14">-36</text><use href="#sd" x="-35" y="40"/><text class="i" x="-21.5" y="44">-37</text><text x="10" y="14">Хихлач А. Я.</text><text class="r" x="10" y="23">R:579</text><text class="r" x="10" y="34">R:483</text><text class="s" x="65" y="30">1:3</text><text class="i" x="102" y="29">47</text><text class="b" x="10" y="44">Монолаки И. В.</text><text class="l" x="121" y="35">-50</text></g>
<g id="m48" transform="translate(59,1973)"><use href="#mb"/><use href="#sd" x="-35" y="10"/><text class="i" x="-21.5" y="14">-38</text><use href="#sd" x="-35" y="40"/><text class="i" x="-21.5" y="44">-39</text><text class="b" x="10" y="14">Симоненко Я. ?.</text><text class="r" x="10" y="23">R:509</text><text class="r" x="10" y="34">R:611</text><text class="s" x="65" y="30">Тех</text><text class="i" x="102" y="29">48</text><text x="10" y="44">Аброськин Ю. П.</text><text class="l" x="121" y="22.5">-50</text></g>
<g id="m49" transform="translate(229,1943)"><use href="#mb"/><use href="#pl"/><text class="b" x="10" y="14">Монолаки И. В.</text><text class="r" x="10" y="23">R:483</text><text class="r" x="10" y="34">R:509</text><text class="s" x="65" y="30">3:1</text><text class="i" x="102" y="29">49</text><text x="10" y="44">Симоненко Я. ?.</text><text class="p" x="129" y="15">9</text><text class="p" x="129" y="47">10</text></g>
<g id="m50" transform="translate(59,2068)"><use href="#mb"/><use href="#pl"/><use href="#sd" x="-35" y="10"/><text class="i" x="-21.5" y="14">-47</text><use href="#sd" x="-35" y="40"/><text class="i" x="-21.5" y="44">-48</text><text class="b" x="10" y="14">Хихлач А. Я.</text><text class="r" x="10" y="23">R:579</text><text class="r" x="10" y="34">R:611</text><text class="s" x="65" y="30">Тех</text><text class="i" x="102" y="29">50</text><text x="10" y="44">Аброськин Ю. П.</text><text class="p" x="129" y="15">11</text><text class="p" x="129" y="47">12</text></g>
<g id="m51" transform="translate(59,2163)"><use href="#mb"/><use href="#sd" x="-35" y="10"/><text class="i" x="-21.5" y="14">-32</text><use href="#sd" x="-35" y="40"/><text class="i" x="-21.5" y="44">-33</text><text class="b" x="10" y="14">Корниенко Г. А.</text><text class="r" x="10" y="23">R:574</text><text class="r" x="10" y="34">R:432</text><text class="s" x="65" y="30">3:0</text><text class="i" x="102" y="29">51</text><text x="10" y="44">Бандурко А. С.</text><text class="l" x="121" y="35">-54</text></g>
<g id="m52" transform="translate(59,2223)"><use href="#mb"/><use href="#sd" x="-35" y="10"/><text class="i" x="-21.5" y="14">-34</text><use href="#sd" x="-35" y="40"/><text class="i" x="-21.5" y="44">-35</text><text class="b" x="10" y="14">Задерей П. ?.</text><text class="r" x="10" y="23">R:635</text><text class="r" x="10" y="34">R:351</text><text class="s" x="65" y="30">3:0</text><text class="i" x="102" y="29">52</text><text x="10" y="44">Мырза А. Н.</text><text class="l" x="121" y="22.5">-54</text></g>
<g id="m53" transform="translate(229,2193)"><use href="#mb"/><use href="#pl"/><text class="b" x="10" y="14">Корниенко Г. А.</text><text class="r" x="10" y="23">R:574</text><text class="r" x="10" y="34">R:635</text><text class="s" x="65" y="30">3:1</text><text class="i" x="102" y="29">53</text><text x="10" y="44">Задерей П. ?.</text><text class="p" x="129" y="15">13</text><text class="p" x="129" y="47">14</text></g>
<g id="m54" transform="translate(59,2318)"><use href="#mb"/><use href="#pl"/><use href="#sd" x="-35" y="10"/><text class="i" x="-21.5" y="14">-51</text><use href="#sd" x="-35" y="40"/><text class="i" x="-21.5" y="44">-52</text><text class="b" x="10" y="14">Бандурко А. С.</text><text class="r" x="10" y="23">R:432</text><text class="r" x="10" y="34">R:351</text><text class="s" x="65" y="30">3:1</text><text class="i" x="102" y="29">54</text><text x="10" y="44">Мырза А. Н.</text><text class="p" x="129" y="15">15</text><text class="p" x="129" y="47">16</text></g>
<g id="m55" transform="translate(59,2413)"><use href="#mb"/><use href="#sd" x="-35" y="10"/><text class="i" x="-21.5" y="14">-24</text><use href="#sd" x="-35" y="40"/><text class="i" x="-21.5" y="44">-25</text><text x="10" y="14">Кравец И. ?.</text><text class="r" x="10" y="23">R:390</text><text class="r" x="10" y="34">R:300</text><text class="s" x="65" y="30">Тех</text><text class="i" x="102" y="29">55</text><text class="b" x="10" y="44">Во Л. Д.</text><text class="l" x="121" y="35">-63</text></g>
<g id="m56" transform="translate(59,2473)"><use href="#mb"/><use href="#sd" x="-35" y="10"/><text class="i" x="-21.5" y="14">-26</text><use href="#sd" x="-35" y="40"/><text class="i" x="-21.5" y="44">-27</text><text class="b" x="10" y="14">Устинов К. ?.</text><text class="r" x="10" y="23">R:290</text><text class="r" x="10" y="34">R:301</text><text class="s" x="65" y="30">3:0</text><text class="i" x="102" y="29">56</text><text x="10" y="44">Шокун С. П.</text><text class="l" x="121" y="22.5">-63</text></g>
<g id="m57" transform="translate(59,2533)"><use href="#mb"/><use href="#sd" x="-35" y="10"/><text class="i" x="-21.5" y="14">-28</text><use href="#sd" x="-35" y="40"/><text class="i" x="-21.5" y="44">-29</text><text x="10" y="14">Емцев А. Ю.</text><text class="r" x="10" y="23">R:291</text><text class="r" x="10" y="34">R:346</text><text class="s" x="65" y="30">0:3</text><text class="i" x="102" y="29">57</text><text class="b" x="10" y="44">Мышляков С. ?.</text><text class="l" x="121" y="35">-64</text></g>
<g id="m58" transform="translate(59,2593)"><use href="#mb"/><use href="#sd" x="-35" y="10"/><text class="i" x="-21.5" y="14">-30</text><use href="#sd" x="-35" y="40"/><text class="i" x="-21.5" y="44">-31</text><text class="b" x="10" y="14">Иванов Н. ?.</text><text class="r" x="10" y="23">R:286</text><text class="r" x="10" y="34">R:278</text><text class="s" x="65" y="30">3:1</text><text class="i" x="102" y="29">58</text><text x="10" y="44">Радвинский С....</text><text class="l" x="121" y="22.5">-64</text></g>
<g id="m59" transform="translate(229,2443)"><use href="#mb"/><text x="10" y="14">Во Л. Д.</text><text class="r" x="10" y="23">R:300</text><text class="r" x="10" y="34">R:290</text><text class="s" x="65" y="30">0:3</text><text class="i" x="102" y="29">59</text><text class="b" x="10" y="44">Устинов К. ?.</text><text class="l" x="121" y="35">-62</text></g>
<g id="m60" transform="translate(229,2563)"><use href="#mb"/><text class="b" x="10" y="14">Мышляков С. ?.</text><text class="r" x="10" y="23">R:346</text><text class="r" x="10" y="34">R:286</text><text class="s" x="65" y="30">3:0</text><text class="i" x="102" y="29">60</text><text x="10" y="44">Иванов Н. ?.</text><text class="l" x="121" y="22.5">-62</text></g>
<g id="m61" transform="translate(399,2503)"><use href="#mb"/><use href="#pl"/><text x="10" y="14">Устинов К. ?.</text><text class="r" x="10" y="23">R:290</text><text class="r" x="10" y="34">R:346</text><text class="s" x="65" y="30">1:3</text><text class="i" x="102" y="29">61</text><text class="b" x="10" y="44">Мышляков С. ?.</text><text class="p" x="129" y="15">18</text><text class="p" x="129" y="47">17</text></g>
<g id="m62" transform="translate(59,2688)"><use href="#mb"/><use href="#pl"/><use href="#sd" x="-35" y="10"/><text class="i" x="-21.5" y="14">-59</text><use href="#sd" x="-35" y="40"/><text class="i" x="-21.5" y="44">-60</text><text x="10" y="14">Во Л. Д.</text><text class="r" x="10" y="23">R:300</text><text class="r" x="10" y="34">R:286</text><text class="s" x="65" y="30">Тех</text><text class="i" x="102" y="29">62</text><text class="b" x="10" y="44">Иванов Н. ?.</text><text class="p" x="129" y="15">20</text><text class="p" x="129" y="47">19</text></g>
<g id="m63" transform="translate(59,2783)"><use href="#mb"/><use href="#sd" x="-35" y="10"/><text class="i" x="-21.5" y="14">-55</text><use href="#sd" x="-35" y="40"/><text class="i" x="-21.5" y="44">-56</text><text x="10" y="14">Кравец И. ?.</text><text class="r" x="10" y="23">R:390</text><text class="r" x="10" y="34">R:301</text><text class="s" x="65" y="30">Тех</text><text class="i" x="102" y="29">63</text><text class="b" x="10" y="44">Шокун С. П.</text><text class="l" x="121" y="35">-66</text></g>
<g id="m64" transform="translate(59,2843)"><use href="#mb"/><use href="#sd" x="-35" y="10"/><text class="i" x="-21.5" y="14">-57</text><use href="#sd" x="-35" y="40"/><text class="i" x="-21.5" y="44">-58</text><text x="10" y="14">Емцев А. Ю.</text><text class="r" x="10" y="23">R:291</text><text class="r" x="10" y="34">R:278</text><text class="s" x="65" y="30">0:3</text><text class="i" x="102" y="29">64</text><text class="b" x="10" y="44">Радвинский С....</text><text class="l" x="121" y="22.5">-66</text></g>
<g id="m65" transform="translate(229,2813)"><use href="#mb"/><use href="#pl"/><text x="10" y="14">Шокун С. П.</text><text class="r" x="10" y="23">R:301</text><text class="r" x="10" y="34">R:278</text><text class="s" x="65" y="30">0:3</text><text class="i" x="102" y="29">65</text><text class="b" x="10" y="44">Радвинский С....</text><text class="p" x="129" y="15">22</text><text class="p" x="129" y="47">21</text></g>
<g id="m66" transform="translate(59,2938)"><use href="#mb"/><use href="#pl"/><use href="#sd" x="-35" y="10"/><text class="i" x="-21.5" y="14">-63</text><use href="#sd" x="-35" y="40"/><text class="i" x="-21.5" y="44">-64</text><text x="10" y="14">Кравец И. ?.</text><text class="r" x="10" y="23">R:390</text><text class="r" x="10" y="34">R:291</text><text class="s" x="65" y="30">Тех</text><text class="i" x="102" y="29">66</text><text class="b" x="10" y="44">Емцев А. Ю.</text><text class="p" x="129" y="15">24</text><text class="p" x="129" y="47">23</text></g>
</g>
</g>
</svg>
